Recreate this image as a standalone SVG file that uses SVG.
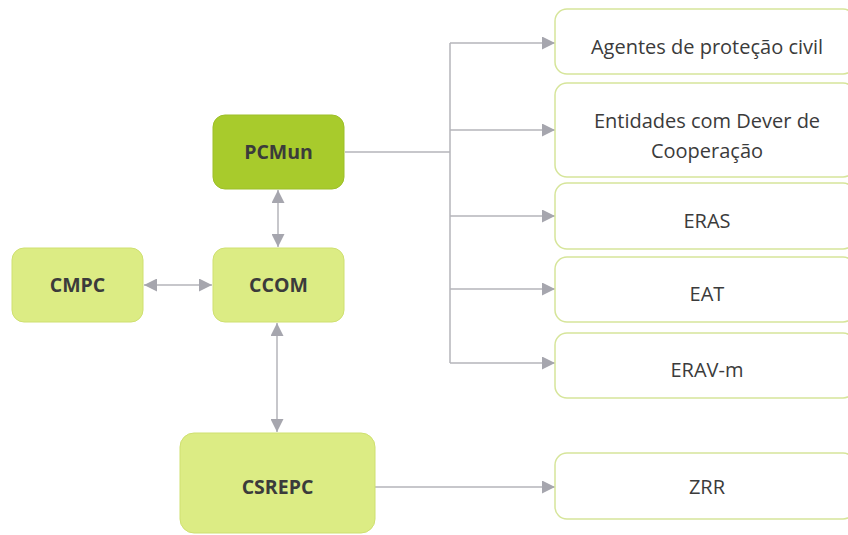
<svg xmlns="http://www.w3.org/2000/svg" width="848" height="535" viewBox="0 0 848 535">
<defs>
<marker id="ah" viewBox="0 0 10 10" refX="10" refY="5" markerWidth="13" markerHeight="13" markerUnits="userSpaceOnUse" orient="auto-start-reverse">
<path d="M0,0 L10,5 L0,10 Z" fill="#a6a6ae"/>
</marker>
</defs>
<style>
.dark{fill:#a8cb2c;stroke:#9dbf28;stroke-width:1}
.light{fill:#dcec84;stroke:#cfe070;stroke-width:1}
.out{fill:#ffffff;stroke:#d6e59a;stroke-width:1.5}
.lb{font-family:"Open Sans","Liberation Sans",sans-serif;font-weight:bold;font-size:19.5px;fill:#3b3b3b;text-anchor:middle}
.lr{font-family:"Open Sans","Liberation Sans",sans-serif;font-size:20px;fill:#3b3b3b;text-anchor:middle}
.c{fill:none;stroke:#b4b4ba;stroke-width:1.5}
</style>
<rect width="848" height="535" fill="#ffffff"/>
<g id="connectors">
<path class="c" d="M345,152 H450"/>
<path class="c" d="M450,43 V363"/>
<path class="c" d="M450,43 H555" marker-end="url(#ah)"/>
<path class="c" d="M450,130 H555" marker-end="url(#ah)"/>
<path class="c" d="M450,216 H555" marker-end="url(#ah)"/>
<path class="c" d="M450,289 H555" marker-end="url(#ah)"/>
<path class="c" d="M450,363 H555" marker-end="url(#ah)"/>
<path class="c" d="M375,487 H555" marker-end="url(#ah)"/>
<path class="c" d="M278,190 V247" marker-start="url(#ah)" marker-end="url(#ah)"/>
<path class="c" d="M144,285 H212" marker-start="url(#ah)" marker-end="url(#ah)"/>
<path class="c" d="M277,323 V432" marker-start="url(#ah)" marker-end="url(#ah)"/>
</g>
<g id="pcmun"><rect class="dark" x="213" y="115" width="131" height="74" rx="12"/><text class="lb" x="278.5" y="159">PCMun</text></g>
<g id="ccom"><rect class="light" x="213" y="248" width="131" height="74" rx="12"/><text class="lb" x="278.5" y="292">CCOM</text></g>
<g id="cmpc"><rect class="light" x="12" y="248" width="131" height="74" rx="12"/><text class="lb" x="77.5" y="292">CMPC</text></g>
<g id="csrepc"><rect class="light" x="180" y="433" width="195" height="100" rx="14"/><text class="lb" x="277.5" y="494">CSREPC</text></g>
<g id="agentes"><rect class="out" x="555" y="9" width="300" height="65" rx="12"/><text class="lr" x="707" y="54">Agentes de proteção civil</text></g>
<g id="entidades"><rect class="out" x="555" y="83" width="300" height="94" rx="12"/><text class="lr" x="707" y="128">Entidades com Dever de</text><text class="lr" x="707" y="158">Cooperação</text></g>
<g id="eras"><rect class="out" x="555" y="183" width="300" height="66" rx="12"/><text class="lr" x="707" y="228">ERAS</text></g>
<g id="eat"><rect class="out" x="555" y="257" width="300" height="65" rx="12"/><text class="lr" x="707" y="301">EAT</text></g>
<g id="eravm"><rect class="out" x="555" y="333" width="300" height="65" rx="12"/><text class="lr" x="707" y="377">ERAV-m</text></g>
<g id="zrr"><rect class="out" x="555" y="453" width="300" height="66" rx="12"/><text class="lr" x="707" y="494">ZRR</text></g>
</svg>
